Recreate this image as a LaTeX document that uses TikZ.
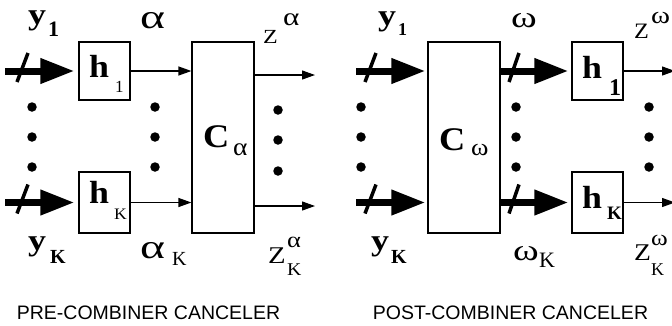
\documentclass[tikz,border=0pt]{standalone}
\usepackage{fontspec}
\usepackage{graphicx}
\setmainfont{Liberation Serif}
\newfontfamily\capfont{Liberation Sans}
\usetikzlibrary{arrows.meta}
\newcommand\lbl[3]{{\fontsize{#1}{#1}\selectfont\scalebox{#2}[1]{#3}}}
\tikzset{
  box/.style={draw, line width=1.2pt, inner sep=0pt},
  lab/.style={inner sep=0pt, outer sep=0pt, anchor=base west},
  thinarrow/.style={line width=1.2pt, -{Triangle[length=13pt,width=9pt]}},
  thickarrow/.style={line width=7pt, -{Triangle[length=34pt,width=24pt]}},
  slashline/.style={line width=3.5pt},
  dotnode/.style={circle, fill, inner sep=0pt, minimum size=9.5pt},
  captext/.style={inner sep=0pt, anchor=base, font=\capfont\fontsize{19.5}{19.5}\selectfont},
}
\begin{document}
\begin{tikzpicture}[x=1pt, y=-1pt]
\useasboundingbox (0,0) rectangle (672,325);

% ---------------- LEFT: PRE-COMBINER ----------------
\node[box, minimum width=51pt, minimum height=58pt] (Lh1) at (104.5,71) {};
\node[box, minimum width=51pt, minimum height=61pt] (LhK) at (104.5,202.5) {};
\node[box, minimum width=62pt, minimum height=191pt] (LC) at (223,137.5) {};

\coordinate (Lin1) at (5,71);
\coordinate (LinK) at (5,202.5);
\coordinate (Lout1) at (315,75);
\coordinate (LoutK) at (315,206);

\draw[thickarrow, shorten >=4pt] (Lin1) -- (Lh1.west);
\draw[thickarrow, shorten >=4pt] (LinK) -- (LhK.west);
\draw[slashline] ([shift={(23,-18)}]Lin1) -- ([shift={(12,11)}]Lin1);
\draw[slashline] ([shift={(23,-18)}]LinK) -- ([shift={(12,11)}]LinK);

\draw[thinarrow] (Lh1.east) -- (LC.west |- Lh1.east);
\draw[thinarrow] (LhK.east) -- (LC.west |- LhK.east);
\draw[thinarrow] (LC.east |- Lout1) -- (Lout1);
\draw[thinarrow] (LC.east |- LoutK) -- (LoutK);

\foreach \i/\y in {1/107,2/137,3/167}{
  \node[dotnode] (Lda\i) at (32,\y) {};
  \node[dotnode] (Ldb\i) at (155,\y) {};
}
\foreach \i/\y in {1/110,2/140,3/171}{
  \node[dotnode] (Ldc\i) at (278,\y) {};
}

\node[lab] (Ly1) at (28,24) {\lbl{30}{1.2}{\bfseries y}};
\node[lab] (Ly1s) at (48,36) {\lbl{22}{1}{\bfseries 1}};
\node[lab] (La) at (140,28) {\lbl{34}{1.4}{α}};
\node[lab] (LZ) at (263,43) {\lbl{20}{1.2}{Z}};
\node[lab] (LZs) at (283,25) {\lbl{25}{1.25}{α}};
\node[lab] (Lh1l) at (89,77) {\lbl{32}{1.12}{\bfseries h}};
\node[lab] (Lh1s) at (115,92) {\lbl{17}{1}{1}};
\node[lab] (LhKl) at (89,203) {\lbl{32}{1.12}{\bfseries h}};
\node[lab] (LhKs) at (114,219) {\lbl{16}{1.1}{K}};
\node[lab] (LCl) at (203,147) {\lbl{33}{1.1}{\bfseries C}};
\node[lab] (LCs) at (233,155) {\lbl{25}{1.1}{α}};
\node[lab] (LyK) at (28,250) {\lbl{30}{1.2}{\bfseries y}};
\node[lab] (LyKs) at (50,263) {\lbl{20}{1}{\bfseries K}};
\node[lab] (LaK) at (140,258) {\lbl{34}{1.4}{α}};
\node[lab] (LaKs) at (172,265) {\lbl{20}{1}{K}};
\node[lab] (LZK) at (268,263) {\lbl{24}{1.2}{Z}};
\node[lab] (LZKa) at (287,247) {\lbl{22}{1.2}{α}};
\node[lab] (LZKs) at (287,275) {\lbl{18}{1.1}{K}};

\node[captext] (cap1) at (148.5,319) {PRE-COMBINER CANCELER};

% ---------------- RIGHT: POST-COMBINER ----------------
\node[box, minimum width=72pt, minimum height=191pt] (RC) at (464,137.5) {};
\node[box, minimum width=51pt, minimum height=58pt] (Rh1) at (597.5,71) {};
\node[box, minimum width=51pt, minimum height=61pt] (RhK) at (597.5,202.5) {};

\coordinate (Rin1) at (356,71);
\coordinate (RinK) at (356,202.5);
\coordinate (Rout1) at (675,71);
\coordinate (RoutK) at (675,202.5);
\coordinate (Rm1) at (500,71);
\coordinate (RmK) at (500,202.5);

\draw[thickarrow, shorten >=2pt] (Rin1) -- (RC.west |- Rin1);
\draw[thickarrow, shorten >=2pt] (RinK) -- (RC.west |- RinK);
\draw[thickarrow, shorten >=3pt] (RC.east |- Rh1.west) -- (Rh1.west);
\draw[thickarrow, shorten >=3pt] (RC.east |- RhK.west) -- (RhK.west);
\draw[slashline] ([shift={(20,-18)}]Rin1) -- ([shift={(9,11)}]Rin1);
\draw[slashline] ([shift={(20,-18)}]RinK) -- ([shift={(9,11)}]RinK);
\draw[slashline] ([shift={(19,-18)}]Rm1) -- ([shift={(9,11)}]Rm1);
\draw[slashline] ([shift={(19,-18)}]RmK) -- ([shift={(9,11)}]RmK);

\draw[thinarrow] (Rh1.east) -- (Rout1);
\draw[thinarrow] (RhK.east) -- (RoutK);

\foreach \i/\y in {1/107,2/137,3/167}{
  \node[dotnode] (Rda\i) at (361,\y) {};
  \node[dotnode] (Rdb\i) at (516,\y) {};
  \node[dotnode] (Rdc\i) at (649,\y) {};
}

\node[lab] (Ry1) at (378,25) {\lbl{30}{1.2}{\bfseries y}};
\node[lab] (Ry1s) at (398,35) {\lbl{18}{1}{\bfseries 1}};
\node[lab] (Rw) at (511,27) {\lbl{30}{1.3}{ω}};
\node[lab] (RZ) at (634,38) {\lbl{22}{1.1}{Z}};
\node[lab] (RZs) at (651,23) {\lbl{24}{1.2}{ω}};
\node[lab] (RCl) at (439,150) {\lbl{33}{1.1}{\bfseries C}};
\node[lab] (RCs) at (471,155) {\lbl{24}{1.1}{ω}};
\node[lab] (Rh1l) at (582,78) {\lbl{32}{1.12}{\bfseries h}};
\node[lab] (Rh1s) at (609,95) {\lbl{24}{1}{\bfseries 1}};
\node[lab] (RhKl) at (582,208) {\lbl{32}{1.12}{\bfseries h}};
\node[lab] (RhKs) at (607,219) {\lbl{19}{1}{\bfseries K}};
\node[lab] (RyK) at (371,250) {\lbl{30}{1.2}{\bfseries y}};
\node[lab] (RyKs) at (391,263) {\lbl{20}{1}{\bfseries K}};
\node[lab] (RwK) at (513,260) {\lbl{30}{1.3}{ω}};
\node[lab] (RwKs) at (539,267) {\lbl{22}{1}{K}};
\node[lab] (RZK) at (634,260) {\lbl{24}{1.15}{Z}};
\node[lab] (RZKw) at (651,245) {\lbl{22}{1.15}{ω}};
\node[lab] (RZKs) at (651,275) {\lbl{18}{1}{K}};

\node[captext] (cap2) at (510.5,319) {POST-COMBINER CANCELER};
\end{tikzpicture}
\end{document}
